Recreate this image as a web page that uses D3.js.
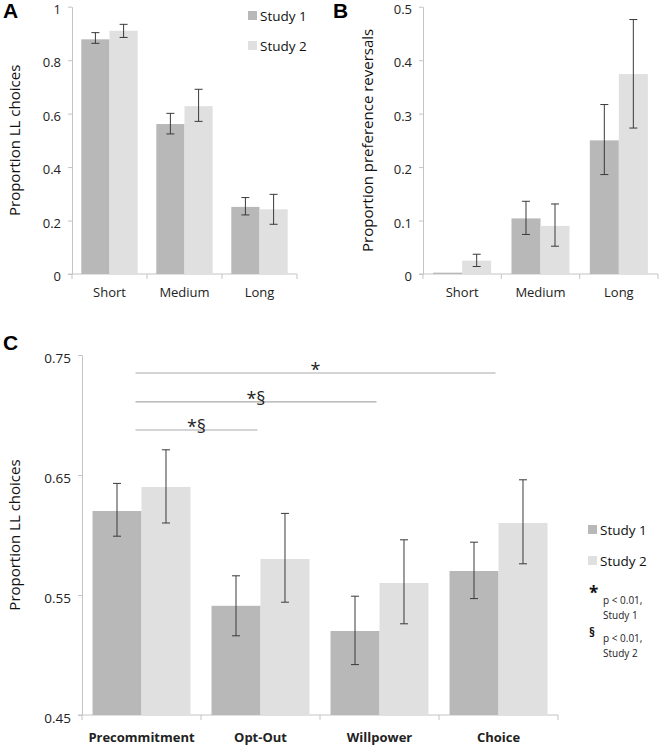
<!DOCTYPE html>
<html><head><meta charset="utf-8">
<script src="https://cdn.jsdelivr.net/npm/d3@7"></script>
<style>body{margin:0;background:#fff}svg{display:block}text{font-family:"Open Sans",Lato,sans-serif}</style>
</head><body>
<svg id="c" width="664" height="746"></svg>
<script>
const studies = ["Study 1","Study 2"];
const colors = ["#b8b8b8","#e0e0e0"];

const catsAB = ["Short","Medium","Long"];
const aStudy1 = [0.878,0.561,0.251];
const aStudy2 = [0.910,0.628,0.242];
const aLo1 = [0.863,0.524,0.221];
const aHi1 = [0.903,0.601,0.286];
const aLo2 = [0.885,0.571,0.186];
const aHi2 = [0.934,0.691,0.298];
const aTicks = [0,0.2,0.4,0.6,0.8,1];

const bStudy1 = [0.0025,0.104,0.250];
const bStudy2 = [0.025,0.090,0.374];
const bLo1 = [null,0.074,0.186];
const bHi1 = [null,0.136,0.317];
const bLo2 = [0.014,0.052,0.273];
const bHi2 = [0.037,0.131,0.476];
const bTicks = [0,0.1,0.2,0.3,0.4,0.5];

const catsC = ["Precommitment","Opt-Out","Willpower","Choice"];
const cStudy1 = [0.620,0.541,0.520,0.570];
const cStudy2 = [0.640,0.580,0.560,0.610];
const cLo1 = [0.599,0.516,0.492,0.547];
const cHi1 = [0.643,0.566,0.549,0.594];
const cLo2 = [0.610,0.544,0.526,0.576];
const cHi2 = [0.671,0.618,0.596,0.646];
const cTicks = [0.45,0.55,0.65,0.75];

const sigTargets = ["Choice","Willpower","Opt-Out"];
const sigLabels = ["*","*§","*§"];
const sigLevels = [0.735,0.711,0.6875];

const svg = d3.select("#c");
const axisColor = "#c4c4c4";

function panel(o){
  const g = svg.append("g");
  const x = d3.scaleBand().domain(o.cats).range([o.x0,o.x1]).paddingInner(0).paddingOuter(0);
  const y = d3.scaleLinear().domain(o.dom).range([o.y0,o.y1]);
  const inner = d3.scaleBand().domain(studies).range([0,x.bandwidth()]).paddingInner(0).paddingOuter(o.pad);
  const ya = g.append("g").attr("transform",`translate(${o.x0},0)`)
    .call(d3.axisLeft(y).tickValues(o.ticks).tickSize(4).tickSizeOuter(0).tickPadding(o.tp).tickFormat(o.fmt));
  ya.select(".domain").attr("stroke",axisColor);
  ya.selectAll(".tick line").attr("stroke",axisColor);
  ya.selectAll(".tick text").attr("fill","#222").attr("dy","0.52em").style("font-size",o.tfs+"px");
  const xa = g.append("g").attr("transform",`translate(0,${o.y0})`)
    .call(d3.axisBottom(x).tickSize(0).tickPadding(o.xpad));
  xa.select(".domain").attr("stroke",axisColor).attr("d",`M${o.x0-4},0H${o.x1}`);
  xa.selectAll(".tick text").attr("fill","#222").style("font-size",o.xfs+"px").style("font-weight",o.xbold?"bold":"normal");
  g.selectAll(".bt").data(d3.range(o.cats.length+1)).join("line")
    .attr("x1",i=>o.x0+i*x.step()).attr("x2",i=>o.x0+i*x.step())
    .attr("y1",o.y0).attr("y2",o.y0+5).attr("stroke",axisColor);
  const series = [o.s1,o.s2], lo=[o.lo1,o.lo2], hi=[o.hi1,o.hi2];
  series.forEach((vals,si)=>{
    g.selectAll(".bar"+si).data(vals).join("rect")
      .attr("x",(d,i)=>x(o.cats[i])+inner(studies[si]))
      .attr("width",inner.bandwidth())
      .attr("y",d=>y(d)).attr("height",d=>y(o.dom[0])-y(d))
      .attr("fill",colors[si]);
  });
  series.forEach((vals,si)=>{
    vals.forEach((v,i)=>{
      if(lo[si][i]==null) return;
      const cx = x(o.cats[i])+inner(studies[si])+inner.bandwidth()/2;
      const eg = g.append("g").attr("stroke","#3a3a3a").attr("stroke-width",1);
      eg.append("line").attr("x1",cx).attr("x2",cx).attr("y1",y(lo[si][i])).attr("y2",y(hi[si][i]));
      eg.append("line").attr("x1",cx-o.cap).attr("x2",cx+o.cap).attr("y1",y(lo[si][i])).attr("y2",y(lo[si][i]));
      eg.append("line").attr("x1",cx-o.cap).attr("x2",cx+o.cap).attr("y1",y(hi[si][i])).attr("y2",y(hi[si][i]));
    });
  });
  g.append("text").attr("transform",`translate(${o.ylx},${(o.y0+o.y1)/2}) rotate(-90)`)
    .attr("text-anchor","middle").attr("fill","#111").style("font-size",o.ylfs+"px").text(o.ylabel);
  g.append("text").attr("x",o.lx).attr("y",o.ly).attr("fill","#000")
    .style("font-size","21px").style("font-weight","bold").style("font-family","Arial, 'Liberation Sans', sans-serif").text(o.letter);
  return {g,x,y,inner};
}

const fmt1 = d=>d===0?"0":(d===1?"1":d3.format(".1f")(d));
const A = panel({cats:catsAB,x0:72,x1:297,y0:274,y1:6.7,dom:[0,1],pad:0.33,ticks:aTicks,fmt:fmt1,tp:7,tfs:13,xfs:13,xpad:14,
  s1:aStudy1,s2:aStudy2,lo1:aLo1,hi1:aHi1,lo2:aLo2,hi2:aHi2,cap:4,ylabel:"Proportion LL choices",ylx:20,ylfs:15,letter:"A",lx:3,ly:18});
const B = panel({cats:catsAB,x0:423,x1:658,y0:274,y1:6.7,dom:[0,0.5],pad:0.35,ticks:bTicks,fmt:fmt1,tp:7,tfs:13,xfs:13,xpad:14,
  s1:bStudy1,s2:bStudy2,lo1:bLo1,hi1:bHi1,lo2:bLo2,hi2:bHi2,cap:4,ylabel:"Proportion preference reversals",ylx:373,ylfs:15,letter:"B",lx:333,ly:18});
const C = panel({cats:catsC,x0:82,x1:558,y0:715,y1:355,dom:[0.45,0.75],pad:0.215,ticks:cTicks,fmt:d3.format(".2f"),tp:7,tfs:13.5,xfs:13,xbold:true,xpad:18,
  s1:cStudy1,s2:cStudy2,lo1:cLo1,hi1:cHi1,lo2:cLo2,hi2:cHi2,cap:4,ylabel:"Proportion LL choices",ylx:20,ylfs:15,letter:"C",lx:3,ly:350});

function legend(x,y,gap){
  studies.forEach((s,i)=>{
    svg.append("rect").attr("x",x).attr("y",y+i*gap-10).attr("width",9).attr("height",9).attr("fill",colors[i]);
    svg.append("text").attr("x",x+12).attr("y",y+i*gap).attr("fill","#111").style("font-size","13.5px").text(s);
  });
}
legend(248,21,30);
legend(588,535,31);

const pre = C.x(catsC[0])+C.x.bandwidth()/2;
sigTargets.forEach((t,i)=>{
  const xe = C.x(t)+C.x.bandwidth()/2-3;
  const yy = C.y(sigLevels[i]);
  svg.append("line").attr("x1",pre-6).attr("x2",xe).attr("y1",yy).attr("y2",yy).attr("stroke","#aaa").attr("stroke-width",1.2);
  svg.append("text").attr("x",(pre-6+xe)/2).attr("y",yy+3).attr("text-anchor","middle").attr("fill","#222")
    .style("font-size","18px").text(sigLabels[i]);
});

const notes = [["*","p < 0.01,","Study 1"],["§","p < 0.01,","Study 2"]];
notes.forEach((n,i)=>{
  const y0 = 599 + i*38;
  svg.append("text").attr("x",589).attr("y",y0).attr("fill","#111").style("font-size",i===0?"17px":"12px").style("font-weight","bold").text(n[0]);
  svg.append("text").attr("x",603).attr("y",y0+5).attr("fill","#222").style("font-size","10px").text(n[1]);
  svg.append("text").attr("x",603).attr("y",y0+20).attr("fill","#222").style("font-size","10px").text(n[2]);
});
</script>
</body></html>
